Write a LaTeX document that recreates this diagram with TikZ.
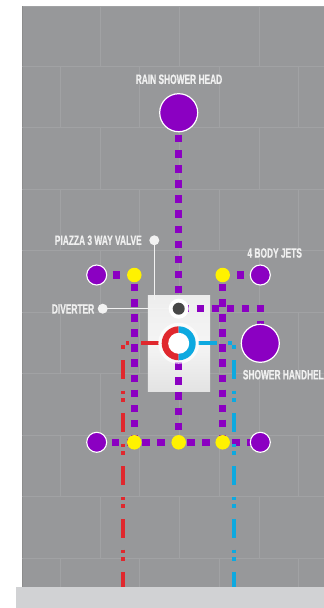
\documentclass[tikz,border=0pt]{standalone}
\usepackage{fontspec}
\setmainfont[FakeStretch=0.62,FakeBold=0.6]{Liberation Sans Bold}
\pgfdeclarelayer{back}
\pgfdeclarelayer{pipes}
\pgfdeclarelayer{leaders}
\pgfsetlayers{back,pipes,leaders,main}
\definecolor{wall}{HTML}{97989A}
\definecolor{tile}{HTML}{A1A2A4}
\definecolor{floorc}{HTML}{D1D2D4}
\definecolor{pur}{HTML}{8B00C2}
\definecolor{yel}{HTML}{FFF200}
\definecolor{redc}{HTML}{E0282E}
\definecolor{bluc}{HTML}{0DA9E0}
\tikzset{
  jet/.style={circle,draw=white,line width=1.1pt,fill=pur,inner sep=0pt,minimum size=20pt},
  bighead/.style={circle,draw=white,line width=1.2pt,fill=pur,inner sep=0pt,minimum size=38pt},
  junction/.style={circle,fill=yel,inner sep=0pt,minimum size=14.5pt},
  whitedot/.style={circle,fill=white!95!black,inner sep=0pt,minimum size=10pt},
  lab/.style={text=white!94!black,font=\fontsize{13.5pt}{14pt}\selectfont,inner sep=0pt},
  pipe/.style={draw=pur,line width=7.5pt,dash pattern=on 7.5pt off 7.6pt},
  leader/.style={draw=white!95!black,line width=1.3pt},
  hotv/.style={draw=redc,line width=3.7pt,dash pattern=on 18.7pt off 11.5pt on 3.5pt off 4pt on 3.5pt off 11.8pt,dash phase=37.7pt},
  coldv/.style={draw=bluc,line width=3.7pt,dash pattern=on 18.7pt off 11.5pt on 3.5pt off 4pt on 3.5pt off 11.8pt,dash phase=37.7pt},
  hoth/.style={draw=redc,line width=3.7pt,dash pattern=on 0pt off 19.4pt on 18.3pt off 11.9pt on 3.5pt off 30pt},
  coldh/.style={draw=bluc,line width=3.7pt,dash pattern=on 0pt off 19.3pt on 18.7pt off 11.5pt on 3.8pt off 30pt},
}
\begin{document}
\begin{tikzpicture}[x=1pt,y=-1pt]
\useasboundingbox (0,0) rectangle (324,608);
\begin{pgfonlayer}{back}
  \fill[white] (0,0) rectangle (324,608);
  \fill[wall] (22,6) rectangle (324,587);
  \draw[tile,line width=.7pt] (22,6.3) -- (324,6.3);
  \draw[black!45,line width=.8pt] (22,6) -- (22,587);
  \foreach \yy in {66,127.5,189,250.5,312,373.5,435,496.5,558}
    \draw[tile,line width=.7pt] (22,\yy) -- (324,\yy);
  \foreach \ya/\yb in {6/66,127.5/189,250.5/312,373.5/435,496.5/558}
    \foreach \xx in {100,179,259}
      \draw[tile,line width=.6pt] (\xx,\ya) -- (\xx,\yb);
  \foreach \ya/\yb in {66/127.5,189/250.5,312/373.5,435/496.5,558/587}
    \foreach \xx in {60,139,219,298}
      \draw[tile,line width=.6pt] (\xx,\ya) -- (\xx,\yb);
  \fill[floorc] (16,587) rectangle (324,608);
  \node[minimum width=62.3pt,minimum height=96pt,inner sep=0pt,anchor=north west,
        top color=white!93!black,bottom color=white!89!black,
        middle color=white!96!black] (box) at (147.7,295.3) {};
\end{pgfonlayer}

\node[bighead] (rain) at (178.7,112.7) {};
\node[bighead] (hand) at (260.3,343.3) {};
\node[jet] (jtl) at (96.7,275) {};
\node[jet] (jtr) at (260.3,275) {};
\node[jet] (jbl) at (96.7,442.3) {};
\node[jet] (jbr) at (260.3,442.3) {};
\node[junction] (ytl) at (134.3,275) {};
\node[junction] (ytr) at (222.7,275) {};
\node[junction] (ybl) at (134.3,442.3) {};
\node[junction] (ybm) at (178.7,442.3) {};
\node[junction] (ybr) at (222.7,442.3) {};

% diverter
\node[circle,fill=white,inner sep=0pt,minimum size=20pt] (div) at (178.7,308.7) {};
\node[circle,fill=black!72,inner sep=0pt,minimum size=12pt] (divcore) at (div.center) {};

% valve
\node[circle,fill=white,fill opacity=.7,inner sep=0pt,minimum size=41pt] (halo) at (178.7,343.3) {};
\fill[redc] (178.7,326.3) arc[start angle=90,end angle=270,radius=17pt] -- cycle;
\fill[bluc] (178.7,326.3) arc[start angle=90,end angle=-90,radius=17pt] -- cycle;
\node[circle,fill=white,inner sep=0pt,minimum size=21pt] (valve) at (178.7,343.3) {};

% labels
\node[lab] (lrain) at (179,79.3) {RAIN SHOWER HEAD};
\node[lab,anchor=west] (lpiazza) at (54.7,240.3) {PIAZZA 3 WAY VALVE};
\node[lab,anchor=west] (ldiv) at (51.7,308.9) {DIVERTER};
\node[lab,anchor=west] (ljets) at (247.3,253) {4 BODY JETS};
\node[lab,anchor=west] (lhand) at (242.7,374.7) {SHOWER HANDHELD};
\node[whitedot] (dpiazza) at (154.3,240.3) {};
\node[whitedot] (ddiv) at (102.7,308.7) {};

\coordinate (boxtop) at (154.3,300);
\coordinate (corner) at (260.3,308.7);
\coordinate (cornerend) at (264,308.7);
\coordinate (hotbend) at (125.6,343.3);
\coordinate (coldbend) at (232,343.3);
\coordinate (hottop) at (123.3,345);
\coordinate (coldtop) at (234,345);
\coordinate (hotend) at (123.3,587);
\coordinate (coldend) at (234,587);

\begin{pgfonlayer}{leaders}
  \draw[leader] (dpiazza.center) -- (boxtop);
  \draw[leader] (ddiv.center) -- (div.center);
\end{pgfonlayer}

\begin{pgfonlayer}{pipes}
  \draw[pipe,dash phase=7.95pt] (rain.center) -- (div.center);
  \draw[pipe,dash phase=11.25pt] (valve.center) -- (ybm.center);
  \draw[pipe,dash phase=6.15pt] (ytl.center) -- (ybl.center);
  \draw[pipe,dash phase=6.15pt] (ytr.center) -- (ybr.center);
  \draw[pipe,dash phase=14.35pt] (jtl.center) -- (ytl.center);
  \draw[pipe,dash phase=14.35pt] (jtr.center) -- (ytr.center);
  \draw[pipe,dash pattern=on 7.5pt off 7.55pt,dash phase=14.9pt] (jbl.center) -- (jbr.center);
  \draw[pipe,dash phase=12.35pt] (div.center) -- (cornerend);
  \draw[pipe,dash pattern=on 7.5pt off 11.9pt,dash phase=7.5pt] (corner) -- (hand.center);
  \draw[hoth] (valve.center) -- (hotbend);
  \draw[coldh] (valve.center) -- (coldbend);
  \draw[hotv] (hottop) -- (hotend);
  \draw[coldv] (coldtop) -- (coldend);
\end{pgfonlayer}
\end{tikzpicture}
\end{document}
